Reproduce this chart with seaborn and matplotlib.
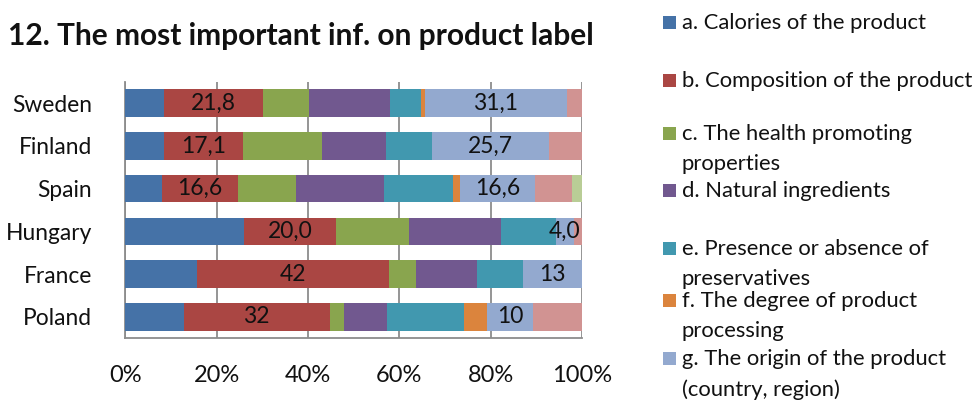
import matplotlib
matplotlib.use("Agg")
import matplotlib.pyplot as plt
import seaborn as sns
import numpy as np
import pandas as pd
from matplotlib.patches import Rectangle

countries = ["Sweden", "Finland", "Spain", "Hungary", "France", "Poland"]
series_names = ["a", "b", "c", "d", "e", "f", "g", "h", "i"]
legend_labels = [
    "a. Calories of the product",
    "b. Composition of the product",
    "c. The health promoting\nproperties",
    "d. Natural ingredients",
    "e. Presence or absence of\npreservatives",
    "f. The degree of product\nprocessing",
    "g. The origin of the product\n(country, region)",
]
a_vals = [8.4, 8.6, 8.0, 26.1, 15.8, 12.8]
b_vals = [21.8, 17.1, 16.6, 20.0, 42.0, 32.0]
c_vals = [10.1, 17.3, 12.8, 16.1, 5.9, 3.2]
d_vals = [17.6, 14.2, 19.3, 20.0, 13.4, 9.4]
e_vals = [6.8, 10.0, 15.0, 12.1, 9.9, 16.7]
f_vals = [0.9, 0.0, 1.5, 0.0, 0.0, 5.2]
g_vals = [31.1, 25.7, 16.6, 4.0, 13.0, 10.0]
h_vals = [3.3, 7.1, 8.0, 1.7, 0.0, 10.7]
i_vals = [0.0, 0.0, 2.2, 0.0, 0.0, 0.0]
b_labels = ["21,8", "17,1", "16,6", "20,0", "42", "32"]
g_labels = ["31,1", "25,7", "16,6", "4,0", "13", "10"]
x_ticks = [0, 20, 40, 60, 80, 100]
x_ticklabels = ["0%", "20%", "40%", "60%", "80%", "100%"]

colors = ["#4572A7", "#AA4643", "#89A54E", "#71588F", "#4198AF",
          "#DB843D", "#93A9CF", "#D19392", "#B9CD96"]

sns.set_theme(style="white")
plt.rcParams["font.family"] = ["Lato", "DejaVu Sans"]
plt.rcParams["text.color"] = "#111111"

df = pd.DataFrame({"country": countries, "a": a_vals, "b": b_vals, "c": c_vals,
                   "d": d_vals, "e": e_vals, "f": f_vals, "g": g_vals,
                   "h": h_vals, "i": i_vals})
cum = df[series_names].cumsum(axis=1)

fig = plt.figure(figsize=(9.78, 4.03), dpi=100)
ax = fig.add_axes([0.128, 0.161, 0.467, 0.636])

for k in reversed(range(len(series_names))):
    tmp = pd.DataFrame({"country": countries, "val": cum[series_names[k]].values})
    sns.barplot(data=tmp, x="val", y="country", order=countries, orient="h",
                color=colors[k], saturation=1, width=0.645, ax=ax,
                edgecolor="none", linewidth=0, zorder=3)

ax.set_xlim(0, 100)
ax.set_ylim(len(countries) - 0.5, -0.5)
ax.set_xticks(x_ticks)
ax.set_xticklabels(x_ticklabels, fontsize=17, color="#111111")
ax.tick_params(axis="y", labelsize=16.4, length=0, pad=24, labelcolor="#111111")
ax.tick_params(axis="x", length=0, pad=19)
ax.set_xlabel("")
ax.set_ylabel("")
ax.grid(axis="x", color="#8c8c8c", linewidth=1.3, zorder=0)
ax.grid(axis="y", visible=False)
for s in ["top", "right"]:
    ax.spines[s].set_visible(False)
for s in ["left", "bottom"]:
    ax.spines[s].set_color("#8c8c8c")
    ax.spines[s].set_linewidth(1.3)

# segment labels
for idx in range(len(countries)):
    bstart = cum["a"].iloc[idx]
    ax.text(bstart + b_vals[idx] / 2, idx, b_labels[idx], ha="center", va="center",
            fontsize=16.5, zorder=5)
    gstart = cum["f"].iloc[idx]
    ax.text(gstart + g_vals[idx] / 2, idx, g_labels[idx], ha="center", va="center",
            fontsize=16.5, zorder=5, clip_on=False)

fig.text(0.008, 1 - 36 / 403, "12. The most important inf. on product label",
         fontsize=21.5, fontweight="bold", ha="left", va="center")

# legend
ys = [22, 80, 133, 190, 248, 300, 358]
for k, (lab, y) in enumerate(zip(legend_labels, ys)):
    fig.patches.append(Rectangle((663 / 978, 1 - (y + 7) / 403), 13 / 978, 13 / 403,
                                 transform=fig.transFigure, facecolor=colors[k],
                                 edgecolor="none"))
    fig.text(682 / 978, 1 - (y - 9) / 403, lab, fontsize=15.8, ha="left", va="top",
             linespacing=1.62)

fig.savefig("out.png", dpi=100)
